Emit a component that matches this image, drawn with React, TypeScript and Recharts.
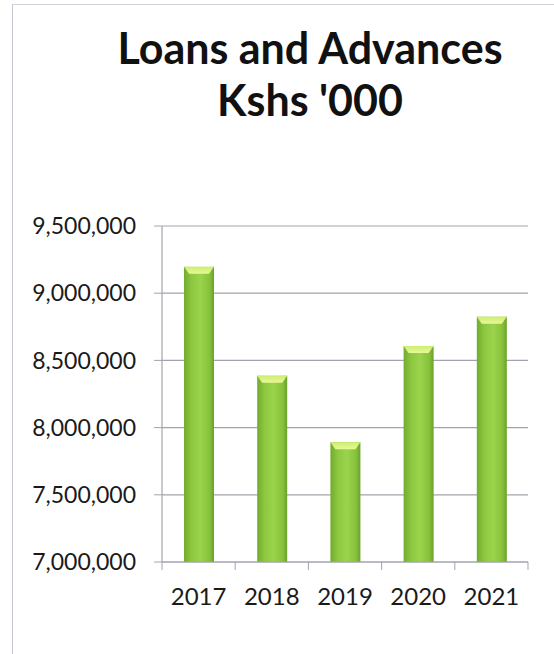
import React from "react";
import { BarChart, Bar, XAxis, YAxis, CartesianGrid } from "recharts";

const years = ["2017", "2018", "2019", "2020", "2021"];
const loans = [9196000, 8386000, 7891000, 8607000, 8825000];
const yTicks = [7000000, 7500000, 8000000, 8500000, 9000000, 9500000];

const data = years.map((year, i) => ({ year, loans: loans[i] }));

const FONT = "Lato, 'Open Sans', sans-serif";
const AXIS = "#a3a3ad";
const BAND = 73.2;

const BarShape = (props: any) => {
  const { x, y, width, height } = props;
  if (!height || height <= 0) return null;
  const cap = 7;
  return (
    <g>
      <rect x={x} y={y} width={width} height={height} fill="url(#barBody)" />
      <polygon
        points={`${x},${y} ${x + width},${y} ${x + width - 5},${y + cap} ${x + 5},${y + cap}`}
        fill="url(#barCap)"
      />
    </g>
  );
};

const YearTick = (props: any) => {
  const { x, payload, index } = props;
  const axisY = 562;
  return (
    <g>
      <line x1={x - BAND / 2} y1={axisY} x2={x - BAND / 2} y2={axisY + 8} stroke={AXIS} />
      {index === years.length - 1 && (
        <line x1={x + BAND / 2} y1={axisY} x2={x + BAND / 2} y2={axisY + 8} stroke={AXIS} />
      )}
      <text x={x} y={axisY + 43} textAnchor="middle" fill="#1a1a1a" fontSize={24} fontFamily={FONT}>
        {payload.value}
      </text>
    </g>
  );
};

export default function App() {
  return (
    <div style={{ position: "absolute", left: 0, top: 0, width: 554, height: 654, background: "#fff", overflow: "hidden" }}>
      <div
        style={{
          position: "absolute",
          left: 12,
          top: 4,
          width: 600,
          height: 700,
          borderLeft: "1.5px solid #c6c6cf",
          borderTop: "1.5px solid #d2d2da",
        }}
      />
      <div
        style={{
          position: "absolute",
          left: 0,
          top: 22,
          width: 620,
          textAlign: "center",
          fontFamily: FONT,
          fontWeight: 700,
          fontSize: 43,
          lineHeight: "52px",
          color: "#111",
        }}
      >
        Loans and Advances
        <br />
        Kshs '000
      </div>
      <div style={{ position: "absolute", left: 0, top: 0 }}>
        <BarChart
          width={554}
          height={654}
          data={data}
          margin={{ top: 226, right: 26, bottom: 32, left: 12 }}
          barSize={30}
        >
          <defs>
            <linearGradient id="barBody" x1="0" y1="0" x2="1" y2="0">
              <stop offset="0%" stopColor="#70ac2e" />
              <stop offset="25%" stopColor="#8ec840" />
              <stop offset="55%" stopColor="#9ad44c" />
              <stop offset="85%" stopColor="#88c23c" />
              <stop offset="100%" stopColor="#67a22a" />
            </linearGradient>
            <linearGradient id="barCap" x1="0" y1="0" x2="0" y2="1">
              <stop offset="0%" stopColor="#cdee70" />
              <stop offset="100%" stopColor="#e8f89a" />
            </linearGradient>
          </defs>
          <CartesianGrid vertical={false} stroke={AXIS} strokeWidth={1.2} />
          <XAxis
            dataKey="year"
            axisLine={{ stroke: AXIS, strokeWidth: 1.2 }}
            tickLine={false}
            tick={<YearTick />}
            height={60}
            interval={0}
          />
          <YAxis
            domain={[7000000, 9500000]}
            ticks={yTicks}
            width={150}
            axisLine={{ stroke: AXIS, strokeWidth: 1.2 }}
            tickLine={{ stroke: AXIS }}
            tickSize={8}
            tickMargin={18}
            tick={{ fill: "#1a1a1a", fontSize: 23, fontFamily: FONT }}
            tickFormatter={(v: number) => v.toLocaleString("en-US")}
            allowDataOverflow
          />
          <Bar dataKey="loans" shape={<BarShape />} isAnimationActive={false} />
        </BarChart>
      </div>
    </div>
  );
}
